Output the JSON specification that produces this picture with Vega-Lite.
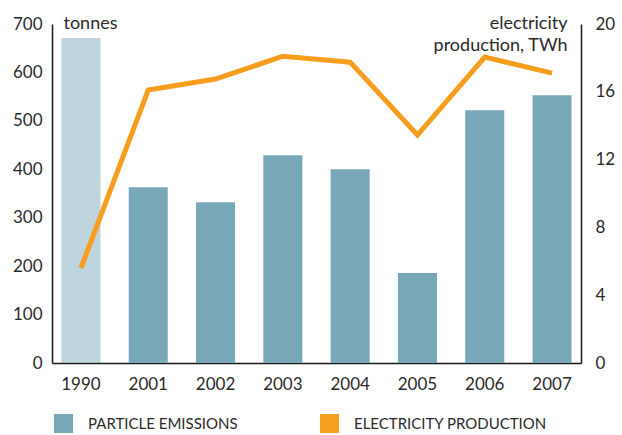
{
  "$schema": "https://vega.github.io/schema/vega-lite/v6.json",
  "width": 529,
  "height": 339,
  "autosize": {"type": "none"},
  "padding": {"left": 52, "top": 24, "right": 41, "bottom": 72},
  "background": "white",
  "config": {
    "font": "Lato",
    "view": {"stroke": null},
    "axis": {"labelFont": "Lato", "titleFont": "Lato", "labelColor": "#2a2a2a", "titleColor": "#2a2a2a", "domainColor": "#1a1a1a", "domainWidth": 1.5, "ticks": false, "grid": false}
  },
  "data": {
    "values": [
      {"year": "1990", "emissions": 671, "electricity": 5.6},
      {"year": "2001", "emissions": 363, "electricity": 16.1},
      {"year": "2002", "emissions": 332, "electricity": 16.75},
      {"year": "2003", "emissions": 429, "electricity": 18.1},
      {"year": "2004", "emissions": 400, "electricity": 17.75},
      {"year": "2005", "emissions": 186, "electricity": 13.45},
      {"year": "2006", "emissions": 522, "electricity": 18.05},
      {"year": "2007", "emissions": 553, "electricity": 17.1}
    ]
  },
  "encoding": {
    "x": {
      "field": "year",
      "type": "ordinal",
      "scale": {"paddingInner": 0.42, "paddingOuter": 0.14},
      "axis": {"title": null, "labelAngle": 0, "labelFontSize": 17, "labelPadding": 13, "domainColor": "#1a1a1a"}
    }
  },
  "layer": [
    {
      "mark": {"type": "bar"},
      "encoding": {
        "y": {
          "field": "emissions",
          "type": "quantitative",
          "scale": {"domain": [0, 700]},
          "axis": {
            "values": [0, 100, 200, 300, 400, 500, 600, 700],
            "labelFontSize": 17,
            "labelPadding": 10,
            "title": "tonnes",
            "titleAngle": 0,
            "titleAlign": "left",
            "titleBaseline": "alphabetic",
            "titleX": 11,
            "titleY": 4,
            "titleFontSize": 18,
            "titleFontWeight": "normal"
          }
        },
        "color": {
          "datum": "particle emissions",
          "scale": {"domain": ["particle emissions", "electricity production"], "range": ["#78A8B8", "#F79E1E"]},
          "legend": {
            "orient": "none",
            "legendX": 2,
            "legendY": 390,
            "direction": "horizontal",
            "title": null,
            "symbolType": "square",
            "symbolSize": 361,
            "symbolStrokeWidth": 0,
            "labelFontSize": 15,
            "labelColor": "#2a2a2a",
            "labelOffset": 15,
            "labelLimit": 400,
            "columnPadding": 82,
            "labelExpr": "upper(datum.label)",
            "labelFont": "Lato"
          }
        },
        "opacity": {"condition": {"test": "datum.year === '1990'", "value": 0.48}, "value": 1}
      }
    },
    {
      "mark": {"type": "line", "strokeWidth": 5, "strokeCap": "butt", "strokeJoin": "miter"},
      "encoding": {
        "y": {
          "field": "electricity",
          "type": "quantitative",
          "scale": {"domain": [0, 20]},
          "axis": {
            "orient": "right",
            "values": [0, 4, 8, 12, 16, 20],
            "labelFontSize": 17,
            "labelPadding": 14,
            "title": ["electricity", "production, TWh"],
            "titleAngle": 0,
            "titleAlign": "right",
            "titleBaseline": "alphabetic",
            "titleLineHeight": 22,
            "titleX": -14,
            "titleY": 4,
            "titleFontSize": 18,
            "titleFontWeight": "normal"
          }
        },
        "color": {"datum": "electricity production"}
      }
    }
  ],
  "resolve": {"scale": {"y": "independent"}}
}
